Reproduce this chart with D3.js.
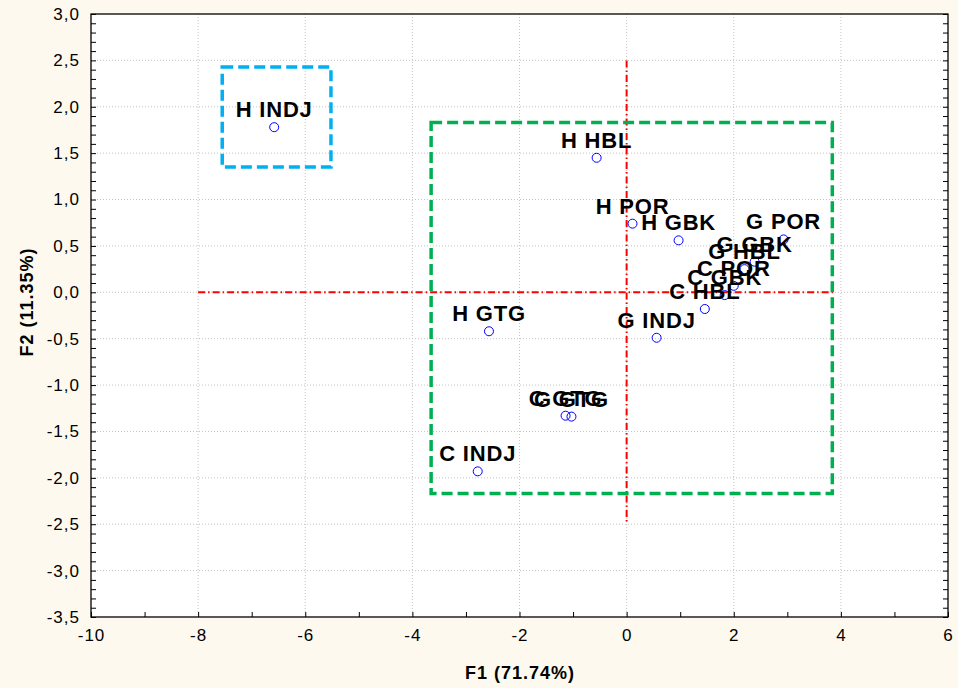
<!DOCTYPE html>
<html>
<head>
<meta charset="utf-8">
<script src="https://cdn.jsdelivr.net/npm/d3@7"></script>
<style>
  body { margin: 0; background: #fff; }
  text { font-family: Arial, "Liberation Sans", sans-serif; }
</style>
</head>
<body>
<svg width="962" height="694"></svg>
<script>
const svg = d3.select("svg");

// point scores (F1, F2)
const labels = ["H INDJ", "H HBL", "H POR", "H GBK", "G POR", "G GBK", "G HBL", "C POR",
  "C GBK", "C HBL", "G INDJ", "H GTG", "C GTG", "G GTG", "C INDJ"];
const f1 = [-6.58, -0.56, 0.11, 0.97, 2.93, 2.39, 2.20, 2.00, 1.83, 1.46, 0.56, -2.57, -1.14, -1.03, -2.78];
const f2 = [1.78, 1.45, 0.74, 0.56, 0.57, 0.33, 0.25, 0.07, -0.03, -0.18, -0.49, -0.42, -1.33, -1.34, -1.93];

const xTicks = [-10, -8, -6, -4, -2, 0, 2, 4, 6];
const yTicks = [3.0, 2.5, 2.0, 1.5, 1.0, 0.5, 0.0, -0.5, -1.0, -1.5, -2.0, -2.5, -3.0, -3.5];

// group boxes [x0, x1, y0, y1]
const blueBox = [-7.55, -5.52, 1.35, 2.43];
const greenBox = [-3.65, 3.84, -2.17, 1.83];
// origin reference lines
const hLine = [-8, 3.9];
const vLine = [-2.5, 2.5];

const margin = { top: 14, right: 14, bottom: 77, left: 91 };
const width = 962, height = 694;

svg.append("rect").attr("width", 958).attr("height", 688).attr("fill", "#fdf9ee");

const x = d3.scaleLinear().domain([-10, 6]).range([margin.left, width - margin.right]);
const y = d3.scaleLinear().domain([-3.5, 3]).range([height - margin.bottom, margin.top]);

const g = svg.append("g");
g.append("rect")
  .attr("x", x(-10)).attr("y", y(3))
  .attr("width", x(6) - x(-10)).attr("height", y(-3.5) - y(3))
  .attr("fill", "#fff");

// grid
g.append("g").selectAll("line").data(xTicks.slice(1, -1)).join("line")
  .attr("x1", d => x(d)).attr("x2", d => x(d))
  .attr("y1", y(3)).attr("y2", y(-3.5))
  .attr("stroke", "#c4c4c4").attr("stroke-dasharray", "1,2");
g.append("g").selectAll("line").data(yTicks.slice(1, -1)).join("line")
  .attr("y1", d => y(d)).attr("y2", d => y(d))
  .attr("x1", x(-10)).attr("x2", x(6))
  .attr("stroke", "#c4c4c4").attr("stroke-dasharray", "1,2");

// axes
const fmt = d => d3.format(".1f")(d).replace(".", ",").replace("−", "-");
const xAxis = g.append("g")
  .attr("transform", `translate(0,${y(-3.5)})`)
  .call(d3.axisBottom(x).tickValues(d3.range(-10, 7, 1)).tickSize(-5).tickPadding(10)
    .tickFormat(d => xTicks.includes(d) ? String(d).replace("−", "-") : ""));
const yAxis = g.append("g")
  .attr("transform", `translate(${x(-10)},0)`)
  .call(d3.axisLeft(y).tickValues(d3.range(-35, 31, 1).map(d => d / 10)).tickSize(-5).tickPadding(11)
    .tickFormat(d => (Math.round(d * 10) % 5 === 0) ? fmt(d) : ""));
const yRight = g.append("g")
  .attr("transform", `translate(${x(6)},0)`)
  .call(d3.axisRight(y).tickValues(d3.range(-35, 31, 1).map(d => d / 10)).tickSize(-5).tickFormat(""));
[xAxis, yAxis, yRight].forEach(a => {
  a.select(".domain").remove();
  a.selectAll("text").attr("font-size", 17).attr("fill", "#000").attr("letter-spacing", 1);
});
xAxis.selectAll("text").attr("dy", "0.85em");

g.append("rect")
  .attr("x", x(-10)).attr("y", y(3))
  .attr("width", x(6) - x(-10)).attr("height", y(-3.5) - y(3))
  .attr("fill", "none").attr("stroke", "#000").attr("stroke-width", 1.3);

// reference lines
g.append("line")
  .attr("x1", x(hLine[0])).attr("x2", x(hLine[1])).attr("y1", y(0)).attr("y2", y(0))
  .attr("stroke", "#ff0000").attr("stroke-width", 2).attr("stroke-dasharray", "7,3,1.5,3");
g.append("line")
  .attr("x1", x(0)).attr("x2", x(0)).attr("y1", y(vLine[1])).attr("y2", y(vLine[0]))
  .attr("stroke", "#ff0000").attr("stroke-width", 2).attr("stroke-dasharray", "7,3,1.5,3");

// group boxes
const box = (b, color) => g.append("rect")
  .attr("x", x(b[0])).attr("y", y(b[3]))
  .attr("width", x(b[1]) - x(b[0])).attr("height", y(b[2]) - y(b[3]))
  .attr("fill", "none").attr("stroke", color).attr("stroke-width", 3.5)
  .attr("stroke-dasharray", "11,5");
box(blueBox, "#00b0f0");
box(greenBox, "#00b050");

// points + labels
const data = labels.map((l, i) => ({ label: l, f1: f1[i], f2: f2[i] }));
g.append("g").selectAll("circle").data(data).join("circle")
  .attr("cx", d => x(d.f1)).attr("cy", d => y(d.f2)).attr("r", 4.5)
  .attr("fill", "none").attr("stroke", "#0000ff").attr("stroke-width", 1);
g.append("g").selectAll("text").data(data).join("text")
  .attr("x", d => x(d.f1)).attr("y", d => y(d.f2) - 10)
  .attr("text-anchor", "middle")
  .attr("font-size", 22).attr("font-weight", "bold").attr("letter-spacing", 0.8)
  .attr("fill", "#000")
  .text(d => d.label);

// axis titles
svg.append("text")
  .attr("x", 520).attr("y", 679).attr("text-anchor", "middle")
  .attr("font-size", 18).attr("font-weight", "bold").attr("letter-spacing", 1)
  .text("F1 (71.74%)");
svg.append("text")
  .attr("transform", "translate(33,302) rotate(-90)").attr("text-anchor", "middle")
  .attr("font-size", 18).attr("font-weight", "bold").attr("letter-spacing", 1)
  .text("F2 (11.35%)");
</script>
</body>
</html>
